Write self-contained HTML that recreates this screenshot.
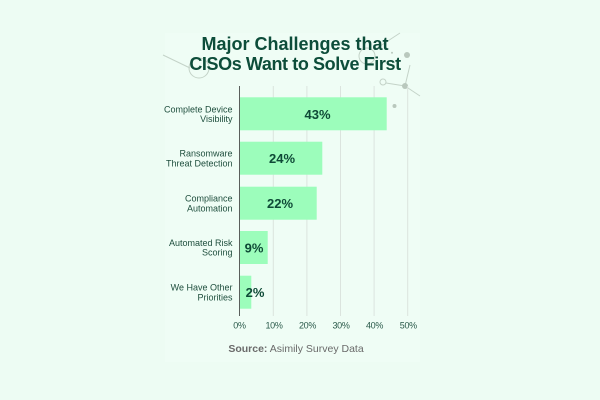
<!DOCTYPE html>
<html><head><meta charset="utf-8"><style>
html,body{margin:0;padding:0;background:#edfcf3;}
svg{display:block;font-family:"Liberation Sans",sans-serif;}
</style></head><body>
<svg width="600" height="400" viewBox="0 0 600 400" xmlns="http://www.w3.org/2000/svg">
<rect x="0" y="0" width="600" height="400" fill="#edfcf3"/>
<rect x="165" y="33" width="255" height="329" fill="#effdf5"/>
<!-- decorations -->
<g stroke="#c4d3c8" stroke-width="1" fill="none">
<line x1="163" y1="55" x2="190" y2="68"/>
<circle cx="199" cy="68" r="10"/>
<line x1="400" y1="33" x2="374" y2="50"/>
<circle cx="367" cy="56" r="8"/>
<circle cx="383" cy="82" r="3"/>
<line x1="386" y1="83" x2="405" y2="86"/>
<line x1="405" y1="86" x2="410" y2="65"/>
<line x1="405" y1="86" x2="420" y2="96"/>
</g>
<g fill="#b9c8bd">
<circle cx="407" cy="55" r="3"/>
<circle cx="392" cy="52.7" r="1"/>
<circle cx="405" cy="86" r="3"/>
<circle cx="394.5" cy="106" r="2"/>
</g>
<!-- title -->
<g font-weight="bold" font-size="18" fill="#0d4d3a" text-anchor="middle">
<text x="295" y="50">Major Challenges that</text>
<text x="295" y="70" letter-spacing="-0.4">CISOs Want to Solve First</text>
</g>
<!-- gridlines -->
<g stroke="#dbe4de" stroke-width="1">
<line x1="273.3" y1="86" x2="273.3" y2="316"/>
<line x1="306.9" y1="86" x2="306.9" y2="316"/>
<line x1="340.5" y1="86" x2="340.5" y2="316"/>
<line x1="374.1" y1="86" x2="374.1" y2="316"/>
<line x1="407.7" y1="86" x2="407.7" y2="316"/>
</g>
<!-- bars -->
<g fill="#9cfdbb">
<rect x="240" y="97.3" width="146.7" height="33"/>
<rect x="240" y="141.7" width="82.3" height="33"/>
<rect x="240" y="186.7" width="76.7" height="33"/>
<rect x="240" y="231" width="27.7" height="33"/>
<rect x="240" y="275.7" width="11.3" height="33"/>
</g>
<line x1="239.5" y1="86" x2="239.5" y2="316" stroke="#5a5f5c" stroke-width="1"/>
<!-- bar labels -->
<g font-weight="bold" font-size="13" fill="#0e4a36" text-anchor="middle">
<text x="317.5" y="119">43%</text>
<text x="282" y="163">24%</text>
<text x="280" y="208">22%</text>
<text x="254" y="252.3">9%</text>
<text x="255" y="297">2%</text>
</g>
<!-- category labels -->
<g font-size="9" fill="#1e4e3d" text-anchor="end">
<text x="232.5" y="112.3">Complete Device</text>
<text x="232.5" y="121.9">Visibility</text>
<text x="232.5" y="156.7">Ransomware</text>
<text x="232.5" y="166.3">Threat Detection</text>
<text x="232.5" y="201.7">Compliance</text>
<text x="232.5" y="211.3">Automation</text>
<text x="232.5" y="246">Automated Risk</text>
<text x="232.5" y="255.6">Scoring</text>
<text x="232.5" y="290.7">We Have Other</text>
<text x="232.5" y="300.3">Priorities</text>
</g>
<!-- tick labels -->
<g font-size="9" fill="#2a5a4a" text-anchor="middle" letter-spacing="-0.3">
<text x="239.5" y="328.5">0%</text>
<text x="274" y="328.5">10%</text>
<text x="307.5" y="328.5">20%</text>
<text x="341" y="328.5">30%</text>
<text x="374.5" y="328.5">40%</text>
<text x="408.3" y="328.5">50%</text>
</g>
<!-- source -->
<text x="296" y="352" font-size="10.5" fill="#6a6a6a" text-anchor="middle"><tspan font-weight="bold">Source:</tspan> Asimily Survey Data</text>
</svg>
</body></html>
